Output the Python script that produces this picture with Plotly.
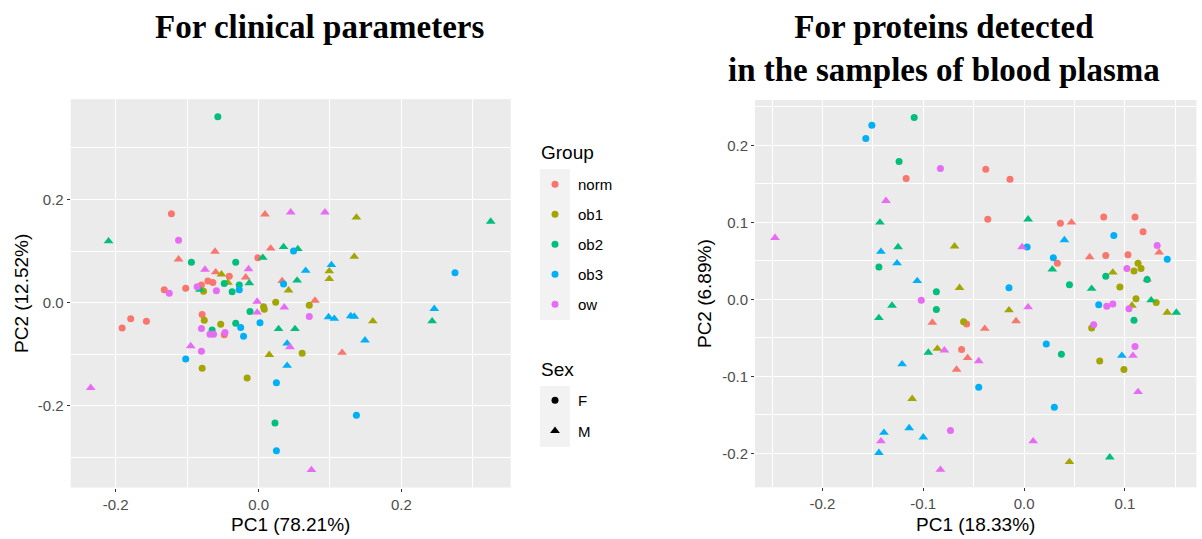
import plotly.graph_objects as go

# ---------------- data ----------------
groups = ["norm", "ob1", "ob2", "ob3", "ow"]
group_colors = ["#F8766D", "#A3A500", "#00BF7D", "#00B0F6", "#E76BF3"]
sexes = ["F", "M"]
sex_symbols = ["circle", "triangle-up"]

# Left panel: clinical parameters (PC1 78.21%, PC2 12.52%)
clin_norm_F_x = [-0.122, -0.001, -0.041, -0.071, -0.064, -0.080, -0.102, -0.132, -0.079, -0.048, -0.191, -0.179, -0.157]
clin_norm_F_y = [0.172, 0.087, 0.051, 0.042, 0.039, 0.034, 0.028, 0.025, -0.023, -0.062, -0.049, -0.031, -0.036]
clin_norm_M_x = [0.009, -0.061, 0.017, -0.112, -0.060, -0.018, 0.033, 0.079, 0.117]
clin_norm_M_y = [0.171, 0.099, 0.105, 0.084, 0.059, 0.049, 0.042, 0.004, -0.097]
clin_ob1_F_x = [-0.077, 0.007, 0.008, 0.024, -0.076, -0.053, 0.071, -0.079, -0.016, 0.061]
clin_ob1_F_y = [0.022, -0.008, -0.013, 0.001, -0.034, -0.042, -0.005, -0.127, -0.146, -0.098]
clin_ob1_M_x = [-0.052, -0.043, 0.042, 0.137, 0.134, 0.099, 0.099, 0.160, 0.015]
clin_ob1_M_y = [0.055, 0.039, 0.024, 0.165, 0.089, 0.061, 0.046, -0.036, -0.101]
clin_ob2_F_x = [-0.057, -0.094, -0.032, -0.048, -0.027, -0.037, -0.012, -0.065, -0.032, 0.023]
clin_ob2_F_y = [0.360, 0.078, 0.078, 0.037, 0.034, 0.021, -0.017, -0.053, -0.040, -0.233]
clin_ob2_M_x = [-0.210, 0.006, 0.035, 0.055, -0.013, -0.082, 0.054, 0.028, 0.051, 0.243, 0.325]
clin_ob2_M_y = [0.119, 0.087, 0.108, 0.104, 0.038, 0.025, 0.043, -0.051, -0.051, -0.036, 0.157]
clin_ob3_F_x = [-0.027, 0.035, 0.049, 0.275, 0.002, -0.025, -0.021, -0.102, 0.025, 0.025, 0.137]
clin_ob3_F_y = [0.025, 0.036, 0.100, 0.058, -0.039, -0.048, -0.065, -0.109, -0.155, -0.287, -0.218]
clin_ob3_M_x = [0.066, 0.102, 0.098, 0.106, 0.129, 0.134, 0.246, 0.040, 0.149, 0.040]
clin_ob3_M_y = [0.062, 0.073, -0.028, -0.031, -0.026, -0.027, -0.012, -0.079, -0.073, -0.122]
clin_ow_F_x = [-0.112, -0.086, -0.125, -0.059, 0.071, -0.080, -0.068, -0.063, -0.047, -0.080]
clin_ow_F_y = [0.121, 0.031, 0.018, 0.023, -0.027, -0.050, -0.061, -0.061, -0.058, -0.094]
clin_ow_M_x = [0.045, 0.093, -0.075, -0.014, -0.002, -0.002, 0.036, 0.044, -0.095, -0.235, 0.074]
clin_ow_M_y = [0.175, 0.175, 0.064, 0.065, 0.002, -0.019, -0.009, -0.086, -0.084, -0.165, -0.324]

# Right panel: plasma proteins (PC1 18.33%, PC2 6.89%)
prot_norm_F_x = [-0.117, -0.038, -0.014, -0.036, 0.036, 0.079, 0.110, 0.118, 0.033, 0.081, 0.103, -0.057, -0.062]
prot_norm_F_y = [0.157, 0.169, 0.156, 0.104, 0.099, 0.107, 0.107, 0.088, 0.047, 0.057, 0.058, -0.032, -0.065]
prot_norm_M_x = [0.047, 0.134, 0.065, 0.122, -0.008, -0.039, -0.091, -0.056, -0.067]
prot_norm_M_y = [0.100, 0.061, 0.055, 0.026, -0.028, -0.038, -0.030, -0.076, -0.091]
prot_ob1_F_x = [0.113, 0.116, 0.109, 0.095, 0.111, 0.131, -0.060, 0.067, 0.075, 0.099]
prot_ob1_F_y = [0.047, 0.040, 0.037, 0.016, 0.001, -0.004, -0.029, -0.037, -0.080, -0.091]
prot_ob1_M_x = [-0.069, -0.064, 0.088, 0.107, 0.142, -0.015, -0.086, -0.111, 0.045]
prot_ob1_M_y = [0.069, 0.015, 0.035, -0.008, -0.017, -0.014, -0.064, -0.129, -0.211]
prot_ob2_F_x = [-0.109, -0.124, -0.144, -0.087, 0.081, 0.122, 0.045, 0.109, -0.087, 0.037]
prot_ob2_F_y = [0.236, 0.179, 0.042, 0.010, 0.030, 0.026, 0.019, -0.027, -0.013, -0.071]
prot_ob2_M_x = [-0.143, -0.125, 0.004, 0.028, 0.067, 0.126, 0.151, -0.131, -0.144, -0.095, 0.085]
prot_ob2_M_y = [0.100, 0.068, 0.104, 0.039, 0.014, -0.001, -0.017, -0.008, -0.024, -0.069, -0.205]
prot_ob3_F_x = [-0.151, -0.157, 0.089, 0.003, 0.142, 0.029, -0.015, 0.074, 0.022, -0.045, 0.030]
prot_ob3_F_y = [0.226, 0.209, 0.083, 0.068, 0.052, 0.054, 0.015, -0.007, -0.058, -0.114, -0.140]
prot_ob3_M_x = [-0.142, -0.126, -0.106, 0.040, 0.097, -0.121, -0.139, -0.114, -0.100, -0.144]
prot_ob3_M_y = [0.062, 0.047, 0.024, 0.077, -0.073, -0.084, -0.173, -0.167, -0.179, -0.199]
prot_ow_F_x = [-0.083, 0.132, 0.102, 0.082, 0.088, 0.104, 0.069, 0.110, -0.102, -0.073]
prot_ow_F_y = [0.170, 0.070, 0.040, -0.009, -0.006, -0.012, -0.033, -0.061, -0.001, -0.170]
prot_ow_M_x = [-0.137, -0.247, -0.002, 0.004, -0.079, -0.045, 0.108, 0.113, 0.009, -0.142, -0.083]
prot_ow_M_y = [0.128, 0.080, 0.068, -0.010, -0.066, -0.080, -0.073, -0.120, -0.184, -0.184, -0.221]

clin_titles = ["PC1 (78.21%)", "PC2 (12.52%)"]
prot_titles = ["PC1 (18.33%)", "PC2 (6.89%)"]
clin_x_ticks = [-0.2, 0.0, 0.2]
clin_x_ticktext = ["-0.2", "0.0", "0.2"]
clin_y_ticks = [-0.2, 0.0, 0.2]
clin_y_ticktext = ["-0.2", "0.0", "0.2"]
prot_x_ticks = [-0.2, -0.1, 0.0, 0.1]
prot_x_ticktext = ["-0.2", "-0.1", "0.0", "0.1"]
prot_y_ticks = [-0.2, -0.1, 0.0, 0.1, 0.2]
prot_y_ticktext = ["-0.2", "-0.1", "0.0", "0.1", "0.2"]
clin_x_minor = [-0.3, -0.1, 0.1, 0.3]
clin_y_minor = [-0.3, -0.1, 0.1, 0.3]
prot_x_minor = [-0.25, -0.15, -0.05, 0.05, 0.15]
prot_y_minor = [-0.25, -0.15, -0.05, 0.05, 0.15, 0.25]

titles = ["For clinical parameters", "For proteins detected<br>in the samples of blood plasma"]
legend_titles = ["Group", "Sex"]

# ---------------- figure ----------------
W, H = 1202, 539
clin = {
    ("norm", "F"): (clin_norm_F_x, clin_norm_F_y), ("norm", "M"): (clin_norm_M_x, clin_norm_M_y),
    ("ob1", "F"): (clin_ob1_F_x, clin_ob1_F_y), ("ob1", "M"): (clin_ob1_M_x, clin_ob1_M_y),
    ("ob2", "F"): (clin_ob2_F_x, clin_ob2_F_y), ("ob2", "M"): (clin_ob2_M_x, clin_ob2_M_y),
    ("ob3", "F"): (clin_ob3_F_x, clin_ob3_F_y), ("ob3", "M"): (clin_ob3_M_x, clin_ob3_M_y),
    ("ow", "F"): (clin_ow_F_x, clin_ow_F_y), ("ow", "M"): (clin_ow_M_x, clin_ow_M_y),
}
prot = {
    ("norm", "F"): (prot_norm_F_x, prot_norm_F_y), ("norm", "M"): (prot_norm_M_x, prot_norm_M_y),
    ("ob1", "F"): (prot_ob1_F_x, prot_ob1_F_y), ("ob1", "M"): (prot_ob1_M_x, prot_ob1_M_y),
    ("ob2", "F"): (prot_ob2_F_x, prot_ob2_F_y), ("ob2", "M"): (prot_ob2_M_x, prot_ob2_M_y),
    ("ob3", "F"): (prot_ob3_F_x, prot_ob3_F_y), ("ob3", "M"): (prot_ob3_M_x, prot_ob3_M_y),
    ("ow", "F"): (prot_ow_F_x, prot_ow_F_y), ("ow", "M"): (prot_ow_M_x, prot_ow_M_y),
}

def msize(sym):
    return 7 if sym == "circle" else 8.5

fig = go.Figure()
for panel, (xa, ya) in ((clin, ("x", "y")), (prot, ("x2", "y2"))):
    for g, col in zip(groups, group_colors):
        for s, sym in zip(sexes, sex_symbols):
            xs, ys = panel[(g, s)]
            fig.add_trace(go.Scatter(
                x=xs, y=ys, mode="markers", xaxis=xa, yaxis=ya, showlegend=False,
                marker=dict(color=col, symbol=sym, size=msize(sym), line=dict(width=0)),
                name=f"{g} {s}"))

# legend entries
for g, col in zip(groups, group_colors):
    fig.add_trace(go.Scatter(x=[None], y=[None], mode="markers", name=g, legend="legend",
                             legendgroup=g, marker=dict(color=col, symbol="circle", size=7)))
for s, sym in zip(sexes, sex_symbols):
    fig.add_trace(go.Scatter(x=[None], y=[None], mode="markers", name=s, legend="legend2",
                             legendgroup="sex" + s, marker=dict(color="black", symbol=sym, size=msize(sym))))

def expand(vals):
    lo, hi = min(vals), max(vals)
    pad = 0.05 * (hi - lo)
    return [lo - pad, hi + pad]

clin_xr = expand(sum([v[0] for v in clin.values()], []))
clin_yr = expand(sum([v[1] for v in clin.values()], []))
prot_xr = expand(sum([v[0] for v in prot.values()], []))
prot_yr = expand(sum([v[1] for v in prot.values()], []))

def px_x(a, b):
    return [a / W, b / W]

def px_y(top, bottom):
    return [1 - bottom / H, 1 - top / H]

tickfont = dict(family="Liberation Sans", size=15, color="#4D4D4D")
titlefont = dict(family="Liberation Sans", size=19, color="black")

def axis(dom, rng, tv, tt, minor, title, standoff, anchor):
    return dict(domain=dom, range=rng, anchor=anchor, tickmode="array", tickvals=tv, ticktext=tt,
                showgrid=True, gridcolor="white", gridwidth=1.2, zeroline=False,
                ticks="outside", ticklen=3, tickcolor="#333333", tickwidth=1,
                tickfont=tickfont, showline=False,
                minor=dict(tickmode="array", tickvals=minor, showgrid=True,
                           gridcolor="white", gridwidth=0.6, ticks=""),
                title=dict(text=title, font=titlefont, standoff=standoff))

legend_font = dict(family="Liberation Sans", size=15, color="black")

fig.update_layout(
    width=W, height=H, margin=dict(l=0, r=0, t=0, b=0),
    paper_bgcolor="white", plot_bgcolor="#EBEBEB",
    font=dict(family="Liberation Sans", color="black"),
    xaxis=axis(px_x(70.7, 510.7), clin_xr, clin_x_ticks, clin_x_ticktext, clin_x_minor, clin_titles[0], 6, "y"),
    yaxis=axis(px_y(99.1, 487.6), clin_yr, clin_y_ticks, clin_y_ticktext, clin_y_minor, clin_titles[1], 4, "x"),
    xaxis2=axis(px_x(755, 1196.4), prot_xr, prot_x_ticks, prot_x_ticktext, prot_x_minor, prot_titles[0], 6, "y2"),
    yaxis2=axis(px_y(100, 487.3), prot_yr, prot_y_ticks, prot_y_ticktext, prot_y_minor, prot_titles[1], 5, "x2"),
    legend=dict(x=532 / W, y=1 - 168 / H, xanchor="left", yanchor="top", bgcolor="rgba(0,0,0,0)",
                font=legend_font, tracegroupgap=7.5, itemclick=False, itemwidth=36),
    legend2=dict(x=532 / W, y=1 - 384 / H, xanchor="left", yanchor="top", bgcolor="rgba(0,0,0,0)",
                 font=legend_font, tracegroupgap=8, itemclick=False, itemwidth=36),
    shapes=[
        dict(type="rect", xref="paper", yref="paper", x0=540 / W, x1=570 / W,
             y0=1 - 320 / H, y1=1 - 169 / H, fillcolor="#F2F2F2", line=dict(width=0), layer="below"),
        dict(type="rect", xref="paper", yref="paper", x0=540 / W, x1=570 / W,
             y0=1 - 447 / H, y1=1 - 386 / H, fillcolor="#F2F2F2", line=dict(width=0), layer="below"),
    ],
    annotations=[
        dict(text="<b>" + titles[0] + "</b>", x=319.5 / W, y=1 - 27 / H, xref="paper", yref="paper",
             showarrow=False, xanchor="center", yanchor="middle",
             font=dict(family="Liberation Serif", size=33, color="black")),
        dict(text="<b>" + titles[1] + "</b>", x=943.5 / W, y=1 - 48.5 / H, xref="paper", yref="paper",
             showarrow=False, xanchor="center", yanchor="middle",
             font=dict(family="Liberation Serif", size=33, color="black")),
        dict(text=legend_titles[0], x=539 / W, y=1 - 152 / H, xref="paper", yref="paper",
             showarrow=False, xanchor="left", yanchor="middle", font=titlefont),
        dict(text=legend_titles[1], x=539 / W, y=1 - 369 / H, xref="paper", yref="paper",
             showarrow=False, xanchor="left", yanchor="middle", font=titlefont),
    ],
)

fig.write_html("out.html", config={"displayModeBar": False},
               post_script="document.body.style.margin='0';")
